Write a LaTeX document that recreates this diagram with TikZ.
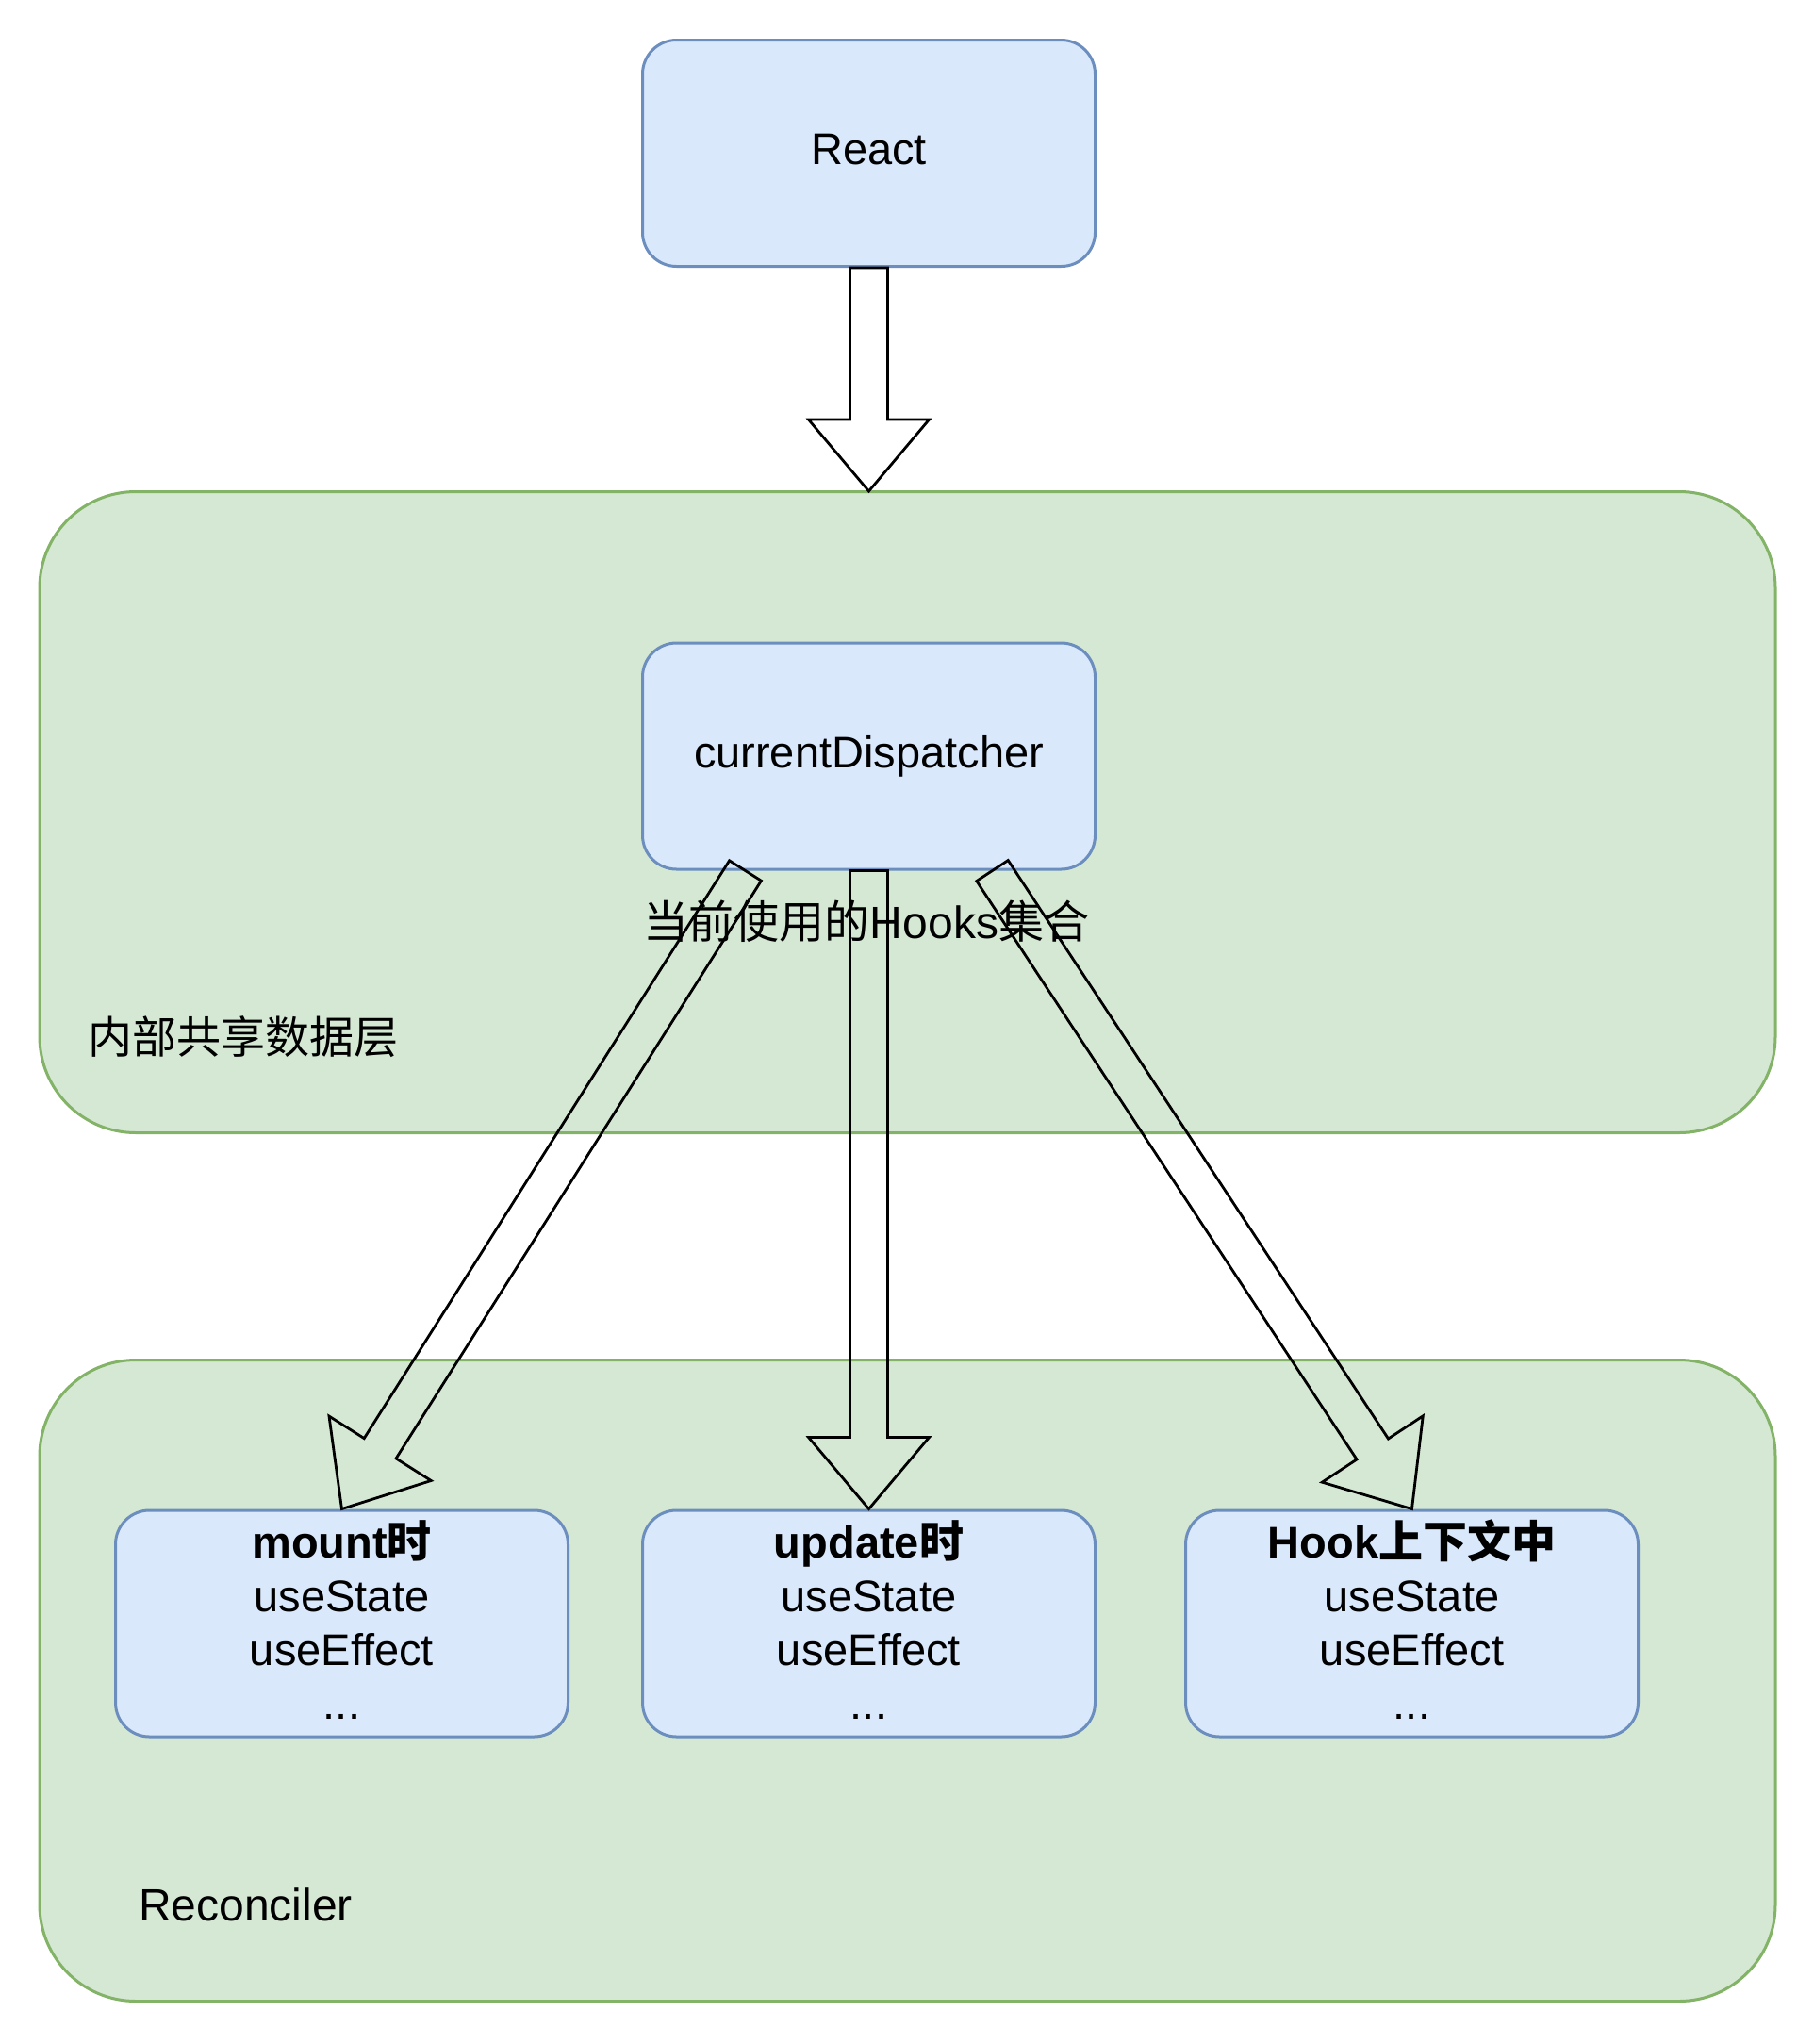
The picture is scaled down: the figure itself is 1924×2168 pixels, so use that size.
\documentclass[tikz,border=0pt]{standalone}
\usepackage{fontspec}
\setmainfont{Liberation Sans}
\newfontfamily\cjk{Noto Sans CJK SC}
\usetikzlibrary{calc}
\definecolor{bfill}{HTML}{DAE8FC}
\definecolor{bline}{HTML}{6C8EBF}
\definecolor{gfill}{HTML}{D5E8D4}
\definecolor{gline}{HTML}{82B366}
\def\aw{20pt}
\def\ah{64pt}
\def\al{76pt}
\newcommand\fatarrow[2]{%
  \coordinate (fa-h) at ($(#2)!\al!(#1)$);
  \draw[fatline] ($(#1)!\aw!90:(#2)$) -- ($(fa-h)!\aw!90:(#2)$) -- ($(fa-h)!\ah!90:(#2)$)
    -- (#2) -- ($(fa-h)!\ah!-90:(#2)$) -- ($(fa-h)!\aw!-90:(#2)$) -- ($(#1)!\aw!-90:(#2)$) -- cycle;}
\begin{document}
\begin{tikzpicture}[x=1pt,y=-1pt,font=\fontsize{47}{57}\selectfont,
  bluebox/.style={draw=bline,fill=bfill,line width=3pt,rounded corners=36pt,
    minimum width=480pt,minimum height=240pt,inner sep=0pt,
    text height=34pt,text depth=10pt},
  greenbox/.style={draw=gline,fill=gfill,line width=3pt,rounded corners=102pt,
    minimum width=1841pt,minimum height=680pt,inner sep=0pt},
  fatline/.style={draw=black,line width=2.8pt,line join=miter},
  txt/.style={inner sep=0pt,outer sep=0pt}]
\useasboundingbox (0,0) rectangle (1924,2168);
% containers
\node[greenbox] (shared) at (962.5,861.5) {};
\node[greenbox] (recon) at (962.5,1782.5) {};
% boxes
\node[bluebox] (react) at (921.5,162.5) {React};
\node[bluebox] (disp) at (921.5,802) {currentDispatcher};
\node[bluebox] (mount) at (362.5,1722) {};
\node[bluebox] (update) at (921.5,1722) {};
\node[bluebox] (hook) at (1497.5,1722) {};
% box texts
\node[txt,anchor=base] (mountt) at (362.5,1652) {\begin{tabular}[t]{@{}c@{}}\textbf{mount{\cjk 时}}\\useState\\useEffect\\...\end{tabular}};
\node[txt,anchor=base] (updatet) at (921.5,1652) {\begin{tabular}[t]{@{}c@{}}\textbf{update{\cjk 时}}\\useState\\useEffect\\...\end{tabular}};
\node[txt,anchor=base] (hookt) at (1497.5,1652) {\begin{tabular}[t]{@{}c@{}}\textbf{Hook{\cjk 上下文中}}\\useState\\useEffect\\...\end{tabular}};
% labels
\node[txt,anchor=base west] (sharedl) at (93,1117) {\cjk 内部共享数据层};
\node[txt,anchor=base west] (reconl) at (147,2037) {\fontsize{48}{57}\selectfont Reconciler};
\node[txt,anchor=base] (lbl) at (919,995) {\fontsize{48}{57}\selectfont{\cjk 当前使用的}Hooks{\cjk 集合}};
% arrow ends
\coordinate (a1e) at (921.5,521);
\coordinate (a2s) at ($(disp.south)+(-131,0)$);
\coordinate (a4s) at ($(disp.south)+(131,0)$);
\fatarrow{react.south}{a1e}
\fatarrow{a2s}{mount.north}
\fatarrow{disp.south}{update.north}
\fatarrow{a4s}{hook.north}
\end{tikzpicture}
\end{document}
